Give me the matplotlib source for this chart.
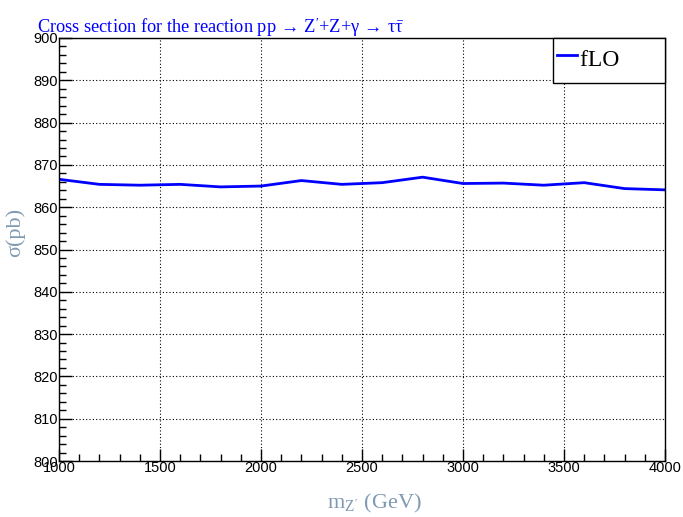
import matplotlib
matplotlib.use("Agg")
import matplotlib.pyplot as plt
from matplotlib.ticker import MultipleLocator

mass = [1000, 1200, 1400, 1600, 1800, 2000, 2200, 2400, 2600, 2800, 3000, 3200, 3400, 3600, 3800, 4000]
xsec = [866.6, 865.4, 865.2, 865.4, 864.8, 865.0, 866.3, 865.4, 865.8, 867.1, 865.6, 865.7, 865.2, 865.8, 864.4, 864.1]
series_name = "fLO"

plt.rcParams['mathtext.fontset'] = 'custom'
plt.rcParams['mathtext.rm'] = 'Liberation Serif'
plt.rcParams['mathtext.it'] = 'Liberation Serif'
plt.rcParams['mathtext.bf'] = 'Liberation Serif:bold'

fig = plt.figure(figsize=(6.83, 5.17), dpi=100)
ax = fig.add_axes([0.0864, 0.1083, 0.8872, 0.8182])
ax.plot(mass, xsec, color='#0000ff', lw=2, label=series_name)
ax.set_xlim(1000, 4000)
ax.set_ylim(800, 900)
ax.xaxis.set_major_locator(MultipleLocator(500))
ax.xaxis.set_minor_locator(MultipleLocator(100))
ax.yaxis.set_major_locator(MultipleLocator(10))
ax.yaxis.set_minor_locator(MultipleLocator(2))
ax.tick_params(which='both', direction='in', top=False, right=False)
ax.tick_params(which='major', length=9, width=1)
ax.tick_params(which='minor', length=5, width=1)
ax.tick_params(axis='x', pad=0)
ax.tick_params(axis='y', pad=1)
for lab in ax.get_xticklabels() + ax.get_yticklabels():
    lab.set_family('Liberation Sans')
    lab.set_fontsize(10.5)
ax.grid(True, which='major', color='black', linestyle=(0, (1, 2)), lw=0.8)
for s in ax.spines.values():
    s.set_linewidth(1)
ax.set_xlabel(r"m$_{Z^{\prime}}$ (GeV)", family='Liberation Serif', fontsize=16, color='#7f99b2')
ax.xaxis.set_label_coords(0.52, -0.074)
ax.set_ylabel("σ(pb)", family='Liberation Serif', fontsize=16, color='#7f99b2')
ax.yaxis.set_label_coords(-0.056, 0.541)
fig.text(0.054, 0.936,
         r"Cross section for the reaction pp $\!\rightarrow\!$ Z$^{\prime}$+Z+γ $\!\rightarrow\!$ τ$\bar{τ}$",
         family=['Liberation Serif', 'DejaVu Serif'], fontsize=13.2, color='#0000ff', va='baseline')
leg = ax.legend(labels=[series_name + "       "], loc='upper right',
                prop={'family': 'Liberation Serif', 'size': 17},
                fancybox=False, edgecolor='black', framealpha=1, handlelength=0.85,
                handleheight=2.0, handletextpad=0.13, borderpad=0.17, borderaxespad=0)
leg.get_frame().set_linewidth(1)
try:
    for col in leg._legend_handle_box.get_children():
        for row in col.get_children():
            row.align = 'center'
except Exception:
    pass
fig.savefig("out.png", dpi=100)
